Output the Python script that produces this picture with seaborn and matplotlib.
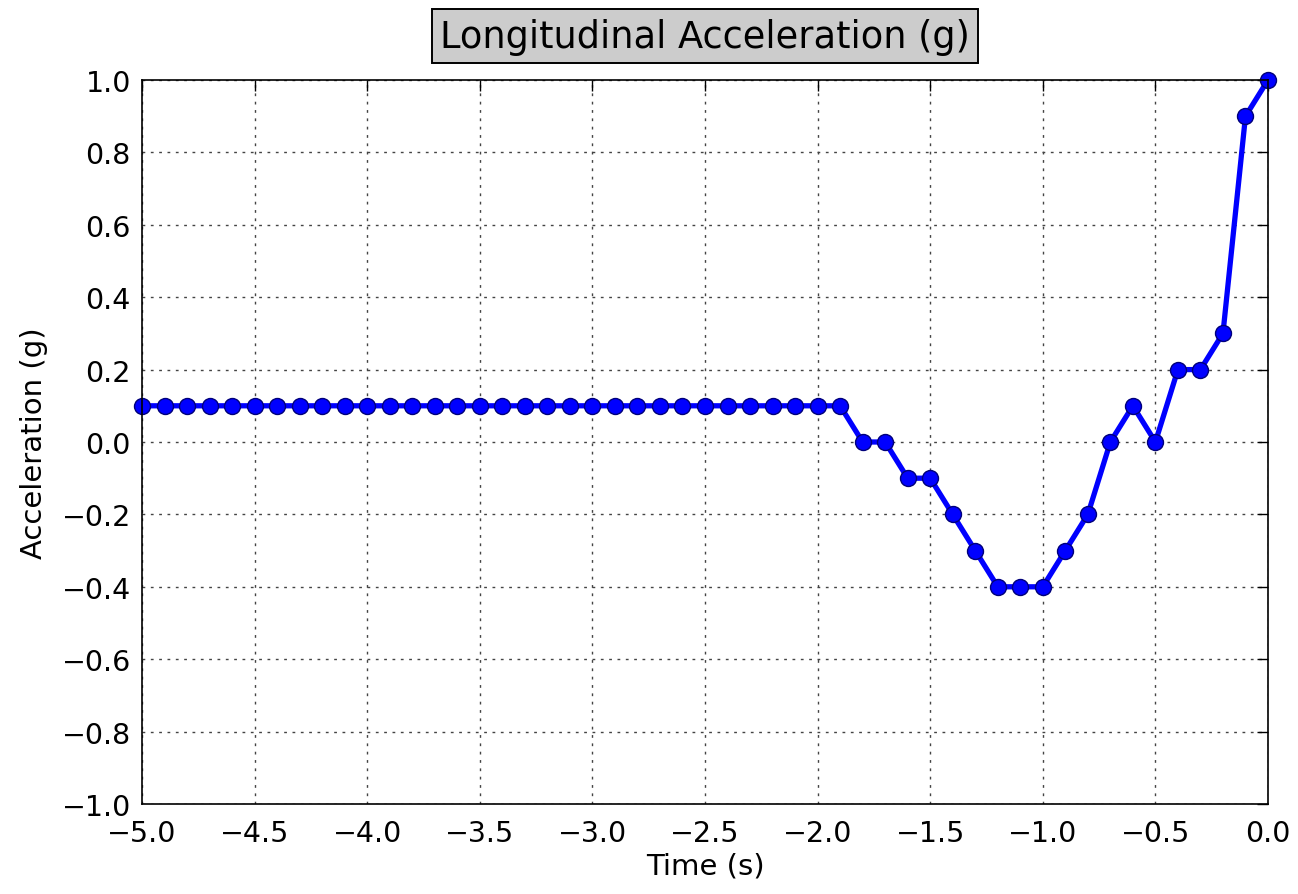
import numpy as np
import pandas as pd
import matplotlib
matplotlib.use("Agg")
import matplotlib.pyplot as plt
import seaborn as sns

# ========== Data ==========
time_s = [-5.0, -4.9, -4.8, -4.7, -4.6, -4.5, -4.4, -4.3, -4.2, -4.1,
          -4.0, -3.9, -3.8, -3.7, -3.6, -3.5, -3.4, -3.3, -3.2, -3.1,
          -3.0, -2.9, -2.8, -2.7, -2.6, -2.5, -2.4, -2.3, -2.2, -2.1,
          -2.0, -1.9, -1.8, -1.7, -1.6, -1.5, -1.4, -1.3, -1.2, -1.1,
          -1.0, -0.9, -0.8, -0.7, -0.6, -0.5, -0.4, -0.3, -0.2, -0.1, 0.0]
accel_g = [0.1] * 32 + [0.0, 0.0, -0.1, -0.1, -0.2, -0.3, -0.4, -0.4,
                        -0.4, -0.3, -0.2, 0.0, 0.1, 0.0, 0.2, 0.2, 0.3, 0.9, 1.0]
x_ticks = [-5.0, -4.5, -4.0, -3.5, -3.0, -2.5, -2.0, -1.5, -1.0, -0.5, 0.0]
y_ticks = [-1.0, -0.8, -0.6, -0.4, -0.2, 0.0, 0.2, 0.4, 0.6, 0.8, 1.0]

df = pd.DataFrame({"time": time_s, "accel": accel_g})

# ========== Plot ==========
sns.set_style("white")
plt.rcParams['font.family'] = ['DejaVu Sans']

fig = plt.figure(figsize=(12.98, 8.95), dpi=100)
ax = fig.add_axes([142 / 1298, 1 - 805 / 895, (1268 - 142) / 1298, (805 - 81) / 895])

sns.lineplot(data=df, x="time", y="accel", ax=ax, color="#0000ff",
             linewidth=3.8, marker="o", markersize=11.5,
             markeredgecolor="#00007a", markeredgewidth=1.0, clip_on=False)

ax.set_xlim(-5.0, 0.0)
ax.set_ylim(-1.0, 1.0)
ax.set_xticks(x_ticks)
ax.set_yticks(y_ticks)
ax.set_xticklabels([f"{t:.1f}".replace("-", "\u2212") for t in x_ticks])
ax.set_yticklabels([f"{t:.1f}".replace("-", "\u2212") for t in y_ticks])
ax.tick_params(direction="in", length=8, width=1, top=True, right=True,
               labelsize=20.5, colors="black")
ax.tick_params(axis="x", pad=11)
ax.tick_params(axis="y", pad=8)
ax.grid(True, linestyle=(0, (2, 4)), color="#444444", linewidth=1)

for side in ax.spines.values():
    side.set_visible(True)
    side.set_color("black")
    side.set_linewidth(1.2)

ax.set_xlabel("Time (s)", fontsize=21, labelpad=3, color="black")
ax.set_ylabel("Acceleration (g)", fontsize=21, labelpad=10, color="black")
ax.set_title("Longitudinal Acceleration (g)", fontsize=26.5, pad=24, color="black",
             bbox=dict(facecolor="#cccccc", edgecolor="black", linewidth=1.4, pad=6))

fig.savefig("out.png", dpi=100, facecolor="white")
